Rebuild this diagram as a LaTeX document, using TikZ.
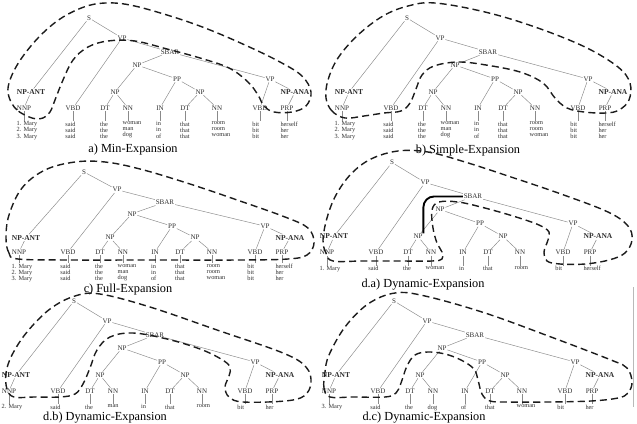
\documentclass[tikz,border=0pt]{standalone}
\usepackage{fontspec}
\setmainfont{Liberation Serif}
\usepackage{xcolor}
\definecolor{Edge}{HTML}{8A8A8A}
\definecolor{Ink}{HTML}{2F2F2F}
\definecolor{Dash}{HTML}{1C1C1C}

\tikzset{
  phrase/.style={inner sep=0.6pt,text=Ink,font=\fontsize{6}{6}\selectfont},
  refnp/.style={phrase,font=\fontsize{6.4}{6.4}\selectfont\bfseries},
  tagnode/.style={phrase},
  wordnode/.style={inner sep=0.4pt,anchor=north west,align=left,text=Ink,font=\fontsize{5.4}{5.2}\selectfont},
  edge/.style={draw=Edge,line width=0.4pt},
  outline/.style={draw=Dash,line width=1.2pt,dash pattern=on 6pt off 3.5pt},
  expandpath/.style={draw=black,line width=1.6pt,rounded corners=9pt},
  caption/.style={font=\fontsize{10.5}{12}\selectfont}
}

% one parse tree: #1 = name prefix, #2 = the nine leaf words
\newcommand{\parsetree}[2]{%
  \coordinate (#1-base) at (0,121);
  \node[phrase] (#1-s) at (89,18) {S};
  \node[phrase] (#1-vp) at (122,38) {VP};
  \node[phrase] (#1-sbar) at (170,52) {SBAR};
  \node[phrase] (#1-np) at (137,65) {NP};
  \node[phrase] (#1-pp) at (177,79) {PP};
  \node[phrase] (#1-vpb) at (270,79) {VP};
  \node[refnp] (#1-ant) at (31,92) {NP-ANT};
  \node[phrase] (#1-npa) at (115,92) {NP};
  \node[phrase] (#1-npb) at (200,92) {NP};
  \node[refnp] (#1-ana) at (295,92) {NP-ANA};
  \foreach \tg/\x [count=\i] in {NNP/24,VBD/73,DT/105,NN/128,IN/160,DT/185,NN/217,VBD/260,PRP/287}
    \node[tagnode] (#1-t\i) at (\x,108) {\tg};
  \foreach \w [count=\i] in {#2}
    \node[wordnode] (#1-w\i) at (#1-t\i.west |- #1-base) {\w};
  \foreach \p/\c in {s/ant,s/vp,vp/t2,vp/sbar,sbar/np,sbar/vpb,np/npa,np/pp,npa/t3,npa/t4,
                     pp/t5,pp/npb,npb/t6,npb/t7,vpb/t8,vpb/ana,ana/t9,ant/t1}
    \draw[edge] (#1-\p) -- (#1-\c);
  \foreach \i in {1,...,9}
    \draw[edge] (#1-t\i.south) -- (#1-t\i.south |- #1-w\i.north);
}

\begin{document}
\begin{tikzpicture}[x=0.03cm,y=-0.03cm]
  \useasboundingbox (0,0) rectangle (637,424);

  % a) min expansion
  \begin{scope}
    \parsetree{a}{{1. Mary\\2. Mary\\3. Mary},{said\\said\\said},{the\\the\\the},{woman\\man\\dog},
      {in\\in\\of},{that\\that\\that},{room\\room\\woman},{bit\\bit\\bit},{herself\\her\\her}}
    \draw[outline] plot[smooth cycle,tension=0.6] coordinates {(32,118) (17,110) (9,97) (9,83)
      (19,62) (38,38) (60,19) (84,7) (105,3) (130,5) (167,15) (205,28) (245,45) (280,62) (302,76)
      (311,92) (306,106) (292,112) (274,112) (264,106) (258,95) (248,82) (229,68) (200,58)
      (167,49) (135,41) (108,41) (88,47) (73,60) (63,80) (55,100) (50,112) (43,118)};
    \node[caption] (capa) at (133,150) {a) Min-Expansion};
  \end{scope}

  % b) simple expansion
  \begin{scope}[shift={(318,0)}]
    \parsetree{b}{{1. Mary\\2. Mary\\3. Mary},{said\\said\\said},{the\\the\\the},{woman\\man\\dog},
      {in\\in\\of},{that\\that\\that},{room\\room\\woman},{bit\\bit\\bit},{herself\\her\\her}}
    \draw[outline] plot[smooth cycle,tension=0.6] coordinates {(27,118) (14,111) (8,98) (10,80)
      (20,58) (40,35) (65,16) (90,6) (117,3) (167,12) (217,27) (267,47) (300,67) (312,83)
      (311,100) (301,110) (288,113) (266,112) (249,108) (237,98) (225,83) (202,72) (168,65)
      (140,62) (116,66) (104,75) (98,89) (92,103) (83,111) (66,113) (46,116)};
    \node[caption] (capb) at (150,151) {b) Simple-Expansion};
  \end{scope}

  % c) full expansion
  \begin{scope}[shift={(-5,156)},yscale=0.888]
    \parsetree{c}{{1. Mary\\2. Mary\\3. Mary},{said\\said\\said},{the\\the\\the},{woman\\man\\dog},
      {in\\in\\of},{that\\that\\that},{room\\room\\woman},{bit\\bit\\bit},{herself\\her\\her}}
  \end{scope}
  \begin{scope}[shift={(0,140)}]
    \draw[outline] plot[smooth cycle,tension=0.6] coordinates {(18,119) (9,113) (6,98) (9,75)
      (22,48) (45,30) (75,22) (105,22) (140,29) (190,44) (240,61) (285,77) (308,88) (314,103)
      (307,115) (288,119) (240,120) (150,120) (70,120)};
    \node[caption] (capc) at (128,150) {c) Full-Expansion};
  \end{scope}

  % d.a) dynamic expansion, sentence 1
  \begin{scope}[shift={(303,144.5)}]
    \parsetree{da}{1. Mary,said,the,woman,in,that,room,bit,herself}
  \end{scope}
  \draw[expandpath] (da-sbar.west) -| (da-npa.north east);
  \begin{scope}[shift={(318,140)}]
    \draw[outline] plot[smooth cycle,tension=0.6] coordinates {(15,121) (8,113) (5,100) (9,78)
      (18,55) (33,34) (53,19) (80,11) (110,12) (147,22) (193,37) (243,54) (290,72) (310,86)
      (314,100) (307,113) (291,120) (267,124) (242,124) (229,121) (226,112) (230,100) (231,92)
      (221,85) (195,76) (163,67) (140,62) (121,62) (114,70) (115,88) (119,103) (124,112)
      (124,119) (114,121) (80,121) (45,121)};
    \node[caption] (capda) at (105,145) {d.a) Dynamic-Expansion};
  \end{scope}

  % d.b) dynamic expansion, sentence 2
  \begin{scope}[shift={(-15,283)}]
    \parsetree{db}{2. Mary,said,the,man,in,that,room,bit,her}
  \end{scope}
  \begin{scope}[shift={(0,280)}]
    \draw[outline] plot[smooth cycle,tension=0.6] coordinates {(14,117) (7,109) (6,93) (12,75)
      (27,52) (50,29) (75,16) (100,14) (150,27) (217,50) (283,73) (306,87) (311,103) (304,116)
      (285,121) (243,122) (229,117) (225,107) (229,96) (230,87) (221,79) (200,69) (167,59)
      (133,53) (110,57) (97,70) (90,88) (83,104) (75,114) (60,117) (35,117)};
    \node[caption] (capdb) at (105,138) {d.b) Dynamic-Expansion};
  \end{scope}

  % d.c) dynamic expansion, sentence 3
  \begin{scope}[shift={(305,283)}]
    \parsetree{dc}{3. Mary,said,the,dog,of,that,woman,bit,her}
  \end{scope}
  \begin{scope}[shift={(318,280)}]
    \draw[outline] plot[smooth cycle,tension=0.6] coordinates {(12,117) (6,108) (7,92) (11,75)
      (27,47) (50,24) (77,13) (107,16) (167,33) (233,57) (293,80) (309,88) (314,102) (310,113)
      (300,118) (273,121) (230,122) (190,122) (172,121) (164,114) (160,100) (156,89) (143,80)
      (127,74) (110,72) (97,75) (89,86) (83,103) (78,113) (67,117) (35,117)};
    \node[caption] (capdc) at (106,138) {d.c) Dynamic-Expansion};
    \draw[draw=Edge!60,line width=0.5pt] (315,7) -- (315,127);
  \end{scope}
\end{tikzpicture}
\end{document}
